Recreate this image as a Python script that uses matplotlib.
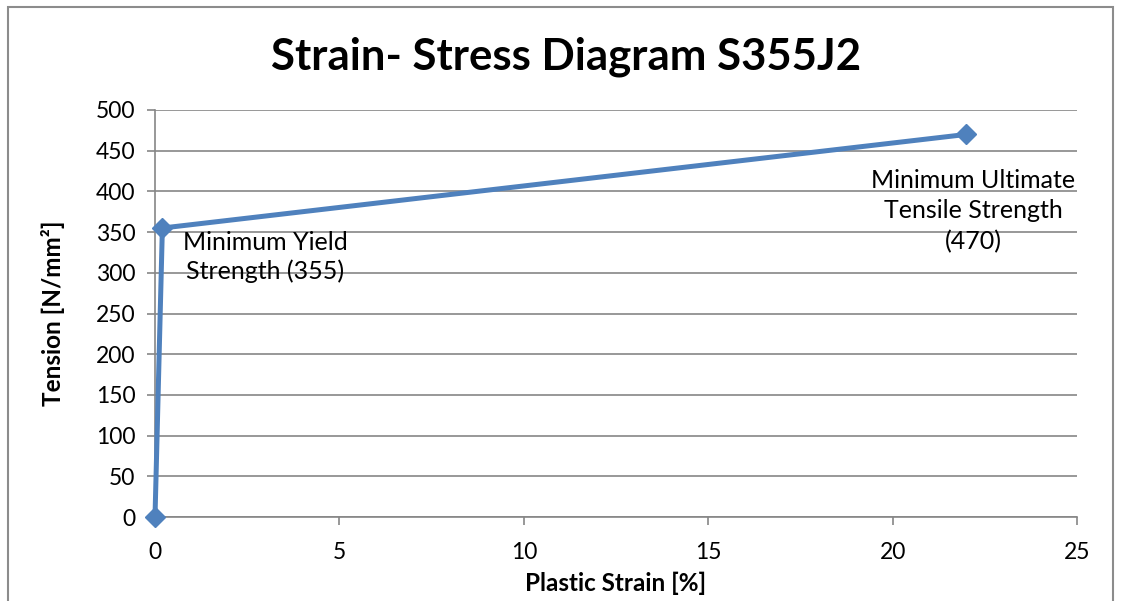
import matplotlib
matplotlib.use('Agg')
import matplotlib.pyplot as plt
from matplotlib.patches import Rectangle

# data
strain = [0, 0.2, 22]
tension = [0, 355, 470]
labels = ['', 'Minimum Yield\nStrength (355)',
          'Minimum Ultimate\nTensile Strength\n(470)']
x_ticks = [0, 5, 10, 15, 20, 25]
y_ticks = list(range(0, 501, 50))

BLUE = '#4F81BD'
GRID = '#868686'

plt.rcParams['font.family'] = ['Lato', 'DejaVu Sans']

fig = plt.figure(figsize=(11.21, 6.01), dpi=100)
fig.patches.append(Rectangle((8 / 1121, -0.1), 1105 / 1121, 1.1 - 7 / 601,
                             transform=fig.transFigure, fill=False,
                             edgecolor='#8c8c8c', linewidth=1.5))

ax = fig.add_axes([155 / 1121, 1 - 517 / 601, 922 / 1121, 407 / 601])
ax.plot(strain, tension, color=BLUE, linewidth=3.6, marker='D',
        markersize=10, zorder=3, clip_on=False)

ax.set_xlim(0, 25)
ax.set_ylim(0, 500)
ax.set_xticks(x_ticks)
ax.set_yticks(y_ticks)
ax.yaxis.grid(True, color=GRID, linewidth=1.2)
ax.set_axisbelow(True)
for side in ['top', 'right']:
    ax.spines[side].set_visible(False)
for side in ['left', 'bottom']:
    ax.spines[side].set_color(GRID)
    ax.spines[side].set_linewidth(1.2)
ax.tick_params(axis='both', colors=GRID, length=6, width=1.2,
               labelcolor='black', labelsize=16.5)
ax.tick_params(axis='y', pad=8)
ax.tick_params(axis='x', pad=12)

ax.set_xlabel('Plastic Strain [%]', fontsize=17.5, fontweight='bold', labelpad=6)
ax.set_ylabel('Tension [N/mm²]', fontsize=17.5, fontweight='bold', labelpad=22)
fig.text(0.505, 1 - 57 / 601, 'Strain- Stress Diagram S355J2',
         fontsize=31.5, fontweight='bold', ha='center', va='center')

# data labels
offsets = [(0, 0), (74, -21), (5, -55)]
spacing = [1.0, 1.25, 1.4]
for x, y, text, off, ls in zip(strain, tension, labels, offsets, spacing):
    if not text:
        continue
    ax.annotate(text, (x, y), xytext=off, textcoords='offset points',
                ha='center', va='center', fontsize=18, linespacing=ls)

plt.savefig('out.png', dpi=100)
